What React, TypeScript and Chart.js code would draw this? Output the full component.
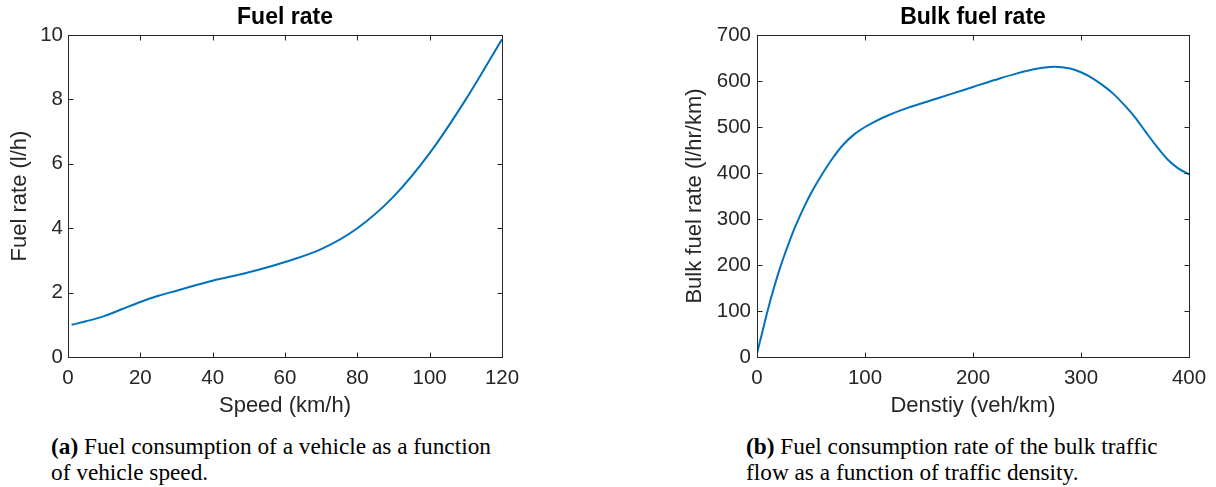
import React, { useEffect, useRef } from "react";
import { Chart, registerables } from "chart.js";

Chart.register(...registerables);

// Left chart: Fuel rate vs speed
const speedKmh = [1, 5, 10, 15, 20, 25, 30, 35, 40, 50, 60, 70, 80, 90, 100, 110, 120];
const fuelRate = [1.0, 1.11, 1.27, 1.49, 1.71, 1.9, 2.06, 2.22, 2.37, 2.63, 2.95, 3.35, 4.0, 4.98, 6.33, 8.0, 9.87];
const speedTicks = [0, 20, 40, 60, 80, 100, 120];
const fuelTicks = [0, 2, 4, 6, 8, 10];

// Right chart: Bulk fuel rate vs density
const densityVehKm = [0, 5, 10, 15, 20, 25, 30, 35, 40, 45, 50, 60, 70, 80, 90, 100, 110, 120, 140, 160, 180, 200, 220, 240, 260, 275, 290, 300, 310, 320, 330, 340, 350, 360, 370, 380, 390, 400];
const bulkFuelRate = [8, 55, 102, 145, 184, 219, 251, 281, 308, 333, 356, 396, 432, 462, 484, 500, 513, 524, 542, 557, 572, 587, 602, 616, 627, 631, 627, 619, 607, 591, 572, 548, 521, 489, 458, 430, 410, 397];
const densityTicks = [0, 100, 200, 300, 400];
const bulkTicks = [0, 100, 200, 300, 400, 500, 600, 700];

const TEXT = "#262626";
const LINE = "#0072BD";
const SANS = "'Liberation Sans', Arial, Helvetica, sans-serif";

const boxPlugin = {
  id: "matlabBox",
  afterDraw(chart: any, _args: any, opts: any) {
    const { ctx, chartArea: a, scales } = chart;
    const L = 5;
    ctx.save();
    // title centered over plot area
    ctx.fillStyle = "#000";
    ctx.font = `bold 23px ${SANS}`;
    ctx.textAlign = "center";
    ctx.textBaseline = "middle";
    ctx.fillText(opts.title || "", (a.left + a.right) / 2, 18);

    ctx.strokeStyle = TEXT;
    ctx.lineWidth = 1;
    const x0 = Math.round(a.left) + 0.5;
    const x1 = Math.round(a.right) + 0.5;
    const y0 = Math.round(a.top) + 0.5;
    const y1 = Math.round(a.bottom) + 0.5;
    ctx.strokeRect(x0, y0, x1 - x0, y1 - y0);
    ctx.beginPath();
    scales.x.ticks.forEach((t: any) => {
      const px = Math.round(scales.x.getPixelForValue(t.value)) + 0.5;
      ctx.moveTo(px, y1);
      ctx.lineTo(px, y1 - L);
      ctx.moveTo(px, y0);
      ctx.lineTo(px, y0 + L);
    });
    scales.y.ticks.forEach((t: any) => {
      const py = Math.round(scales.y.getPixelForValue(t.value)) + 0.5;
      ctx.moveTo(x0, py);
      ctx.lineTo(x0 + L, py);
      ctx.moveTo(x1, py);
      ctx.lineTo(x1 - L, py);
    });
    ctx.stroke();
    ctx.restore();
  },
};

type Cfg = {
  xs: number[];
  ys: number[];
  xTicks: number[];
  yTicks: number[];
  title: string;
  xTitle: string;
  yTitle: string;
  yWidth: number;
  padRight: number;
  yTitlePad: number;
  yTickPad: number;
};

function PlotCanvas({ cfg, width, height }: { cfg: Cfg; width: number; height: number }) {
  const ref = useRef<HTMLCanvasElement | null>(null);
  useEffect(() => {
    if (!ref.current) return;
    const data = cfg.xs.map((x, i) => ({ x, y: cfg.ys[i] }));
    const xStep = cfg.xTicks[1] - cfg.xTicks[0];
    const yStep = cfg.yTicks[1] - cfg.yTicks[0];
    const chart = new Chart(ref.current, {
      type: "line",
      data: {
        datasets: [
          {
            data,
            borderColor: LINE,
            borderWidth: 2,
            pointRadius: 0,
            fill: false,
            cubicInterpolationMode: "monotone",
          },
        ],
      },
      options: {
        responsive: false,
        animation: false,
        devicePixelRatio: 1,
        layout: { padding: { left: 0, right: cfg.padRight, top: 35, bottom: 0 } },
        plugins: {
          legend: { display: false },
          tooltip: { enabled: false },
          title: { display: false },
          matlabBox: { title: cfg.title },
        },
        scales: {
          x: {
            type: "linear",
            min: cfg.xTicks[0],
            max: cfg.xTicks[cfg.xTicks.length - 1],
            grid: { display: false, drawTicks: false },
            border: { display: false },
            ticks: {
              stepSize: xStep,
              color: TEXT,
              padding: 9,
              maxRotation: 0,
              font: { family: SANS, size: 20.5 },
            },
            title: {
              display: true,
              text: cfg.xTitle,
              color: TEXT,
              font: { family: SANS, size: 22 },
              padding: { top: 0, bottom: 1 },
            },
            afterFit: (s: any) => {
              s.height = 63;
              s.paddingLeft = 0;
              s.paddingRight = 0;
            },
          },
          y: {
            type: "linear",
            min: cfg.yTicks[0],
            max: cfg.yTicks[cfg.yTicks.length - 1],
            grid: { display: false, drawTicks: false },
            border: { display: false },
            ticks: {
              stepSize: yStep,
              color: TEXT,
              padding: cfg.yTickPad,
              font: { family: SANS, size: 20.5 },
            },
            title: {
              display: true,
              text: cfg.yTitle,
              color: TEXT,
              font: { family: SANS, size: 22 },
              padding: { top: cfg.yTitlePad, bottom: 0 },
            },
            afterFit: (s: any) => {
              s.width = cfg.yWidth;
              s.paddingTop = 0;
              s.paddingBottom = 0;
            },
          },
        },
      },
      plugins: [boxPlugin],
    } as any);
    return () => chart.destroy();
  }, [cfg]);
  return <canvas ref={ref} width={width} height={height} style={{ display: "block", width, height }} />;
}

const leftCfg: Cfg = {
  xs: speedKmh,
  ys: fuelRate,
  xTicks: speedTicks,
  yTicks: fuelTicks,
  title: "Fuel rate",
  xTitle: "Speed (km/h)",
  yTitle: "Fuel rate (l/h)",
  yWidth: 68,
  padRight: 18,
  yTitlePad: 7,
  yTickPad: 5,
};

const rightCfg: Cfg = {
  xs: densityVehKm,
  ys: bulkFuelRate,
  xTicks: densityTicks,
  yTicks: bulkTicks,
  title: "Bulk fuel rate",
  xTitle: "Denstiy (veh/km)",
  yTitle: "Bulk fuel rate (l/hr/km)",
  yWidth: 77,
  padRight: 27,
  yTitlePad: 2,
  yTickPad: 6,
};

const captionStyle: React.CSSProperties = {
  position: "absolute",
  fontFamily: "'Liberation Serif', 'Times New Roman', Times, serif",
  fontSize: 23.3,
  lineHeight: "26px",
  color: "#000",
  whiteSpace: "nowrap",
};

export default function App() {
  return (
    <div style={{ position: "absolute", left: 0, top: 0, width: 1216, height: 487, background: "#fff", overflow: "hidden" }}>
      <div style={{ position: "absolute", left: 0, top: 0 }}>
        <PlotCanvas cfg={leftCfg} width={520} height={420} />
      </div>
      <div style={{ position: "absolute", left: 680, top: 0 }}>
        <PlotCanvas cfg={rightCfg} width={536} height={420} />
      </div>
      <div style={{ ...captionStyle, left: 51, top: 433 }}>
        <b>(a)</b> Fuel consumption of a vehicle as a function
        <br />
        of vehicle speed.
      </div>
      <div style={{ ...captionStyle, left: 746, top: 433 }}>
        <b>(b)</b> Fuel consumption rate of the bulk traffic
        <br />
        flow as a function of traffic density.
      </div>
    </div>
  );
}
